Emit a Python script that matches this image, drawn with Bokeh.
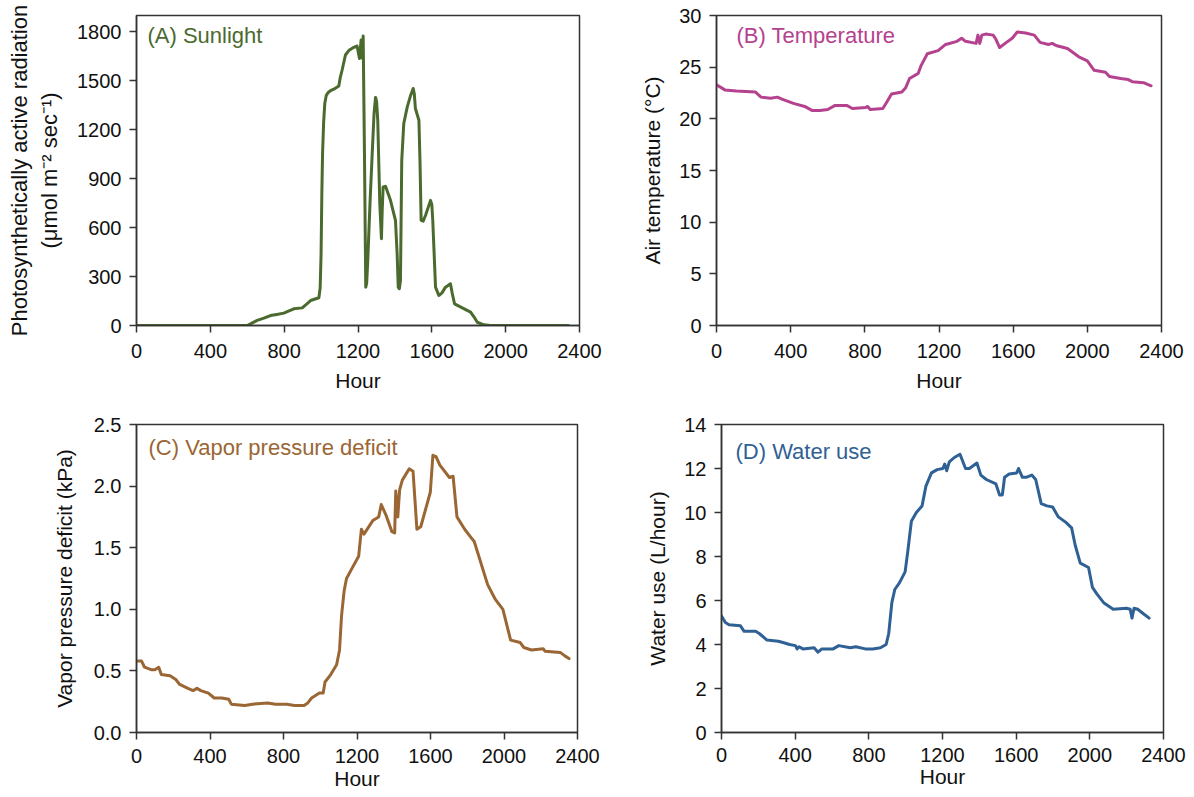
from bokeh.plotting import figure
from bokeh.layouts import column, row
from bokeh.models import FixedTicker, Label, Range1d, NumeralTickFormatter
from bokeh.embed import file_html
from bokeh.resources import INLINE

# ---------------- data ----------------
hours_a = [0, 100, 200, 300, 400, 500, 600, 625, 654, 690, 726, 760, 798, 852, 898, 920, 943, 988, 995, 1000, 1004,
           1008, 1014, 1020, 1028, 1040, 1051, 1075, 1096, 1104, 1114, 1132, 1150, 1177, 1195, 1208, 1217, 1224, 1228,
           1235, 1242, 1247, 1253, 1265, 1277, 1287, 1295, 1301, 1307, 1318, 1327, 1331, 1336, 1349, 1376, 1403, 1412,
           1418, 1424, 1430, 1437, 1448, 1467, 1485, 1499, 1505, 1511, 1530, 1536, 1542, 1553, 1566, 1593, 1600, 1605,
           1620, 1638, 1655, 1674, 1701, 1710, 1723, 1765, 1810, 1830, 1846, 1882, 1918, 2000, 2100, 2200, 2340]
par = [0, 0, 0, 0, 0, 0, 0, 15, 31, 45, 61, 68, 76, 102, 108, 130, 153, 170, 230, 440, 800,
       1054, 1250, 1360, 1410, 1430, 1439, 1452, 1468, 1520, 1566, 1658, 1685, 1705, 1713, 1637, 1750, 1637, 1775,
       1054, 235, 260, 400, 750, 1054, 1300, 1398, 1370, 1258, 747, 532, 700, 849, 853, 767, 645, 440,
       235, 225, 276, 1013, 1238, 1340, 1410, 1453, 1420, 1330, 1258, 1000, 645, 640, 676, 767, 740, 645,
       235, 184, 200, 235, 256, 200, 133, 108, 82, 50, 20, 4, 0, 0, 0, 0, 0]

hours_b = [0, 45, 107, 209, 240, 292, 328, 353, 415, 476, 517, 558, 600, 640, 702, 733, 805, 815, 829, 897,
           918, 944, 1000, 1020, 1041, 1088, 1102, 1137, 1195, 1236, 1297, 1322, 1343, 1400, 1410, 1420, 1431, 1451,
           1492, 1507, 1527, 1564, 1595, 1622, 1667, 1714, 1745, 1790, 1811, 1831, 1893, 1954, 2000, 2037, 2098,
           2119, 2180, 2221, 2242, 2303, 2344]
temperature = [23.3, 22.8, 22.7, 22.6, 22.1, 22.0, 22.1, 21.9, 21.5, 21.2, 20.8, 20.8, 20.9, 21.3, 21.3, 21.0, 21.1,
               21.2, 20.9, 21.0, 21.6, 22.4, 22.6, 23.0, 23.9, 24.4, 25.1, 26.3, 26.6, 27.2, 27.5, 27.8, 27.5, 27.3,
               28.1, 27.3, 28.1, 28.2, 28.1, 27.7, 26.9, 27.4, 27.8, 28.4, 28.3, 28.1, 27.4, 27.2, 27.3, 27.1, 26.8,
               26.0, 25.6, 24.7, 24.5, 24.1, 23.9, 23.8, 23.6, 23.5, 23.2]

hours_c = [0, 27, 44, 79, 100, 121, 135, 183, 214, 235, 277, 308, 329, 350, 391, 423, 464, 502, 516, 589,
           631, 714, 756, 818, 860, 912, 932, 953, 995, 1016, 1026, 1057, 1089, 1105, 1116, 1130, 1143, 1172, 1209,
           1224, 1238, 1286, 1318, 1332, 1359, 1390, 1405, 1411, 1422, 1432, 1447, 1484, 1505, 1526, 1547, 1599,
           1613, 1630, 1651, 1703, 1723, 1744, 1786, 1822, 1838, 1911, 1953, 1994, 2036, 2088, 2108, 2150, 2213,
           2223, 2306, 2333, 2354]
vpd = [0.58, 0.58, 0.53, 0.51, 0.51, 0.53, 0.47, 0.46, 0.43, 0.39, 0.36, 0.34, 0.36, 0.34, 0.32, 0.28, 0.28, 0.27,
       0.23, 0.22, 0.23, 0.24, 0.23, 0.23, 0.22, 0.22, 0.24, 0.28, 0.32, 0.32, 0.41, 0.47, 0.55, 0.67, 0.95, 1.15,
       1.25, 1.33, 1.43, 1.65, 1.61, 1.72, 1.75, 1.85, 1.76, 1.63, 1.62, 1.96, 1.75, 1.97, 2.05, 2.14, 2.12, 1.65,
       1.67, 1.95, 2.25, 2.24, 2.17, 2.07, 2.08, 1.75, 1.65, 1.58, 1.55, 1.2, 1.08, 1.0, 0.75, 0.73, 0.69, 0.67,
       0.68, 0.66, 0.65, 0.62, 0.60]

hours_d = [0, 21, 41, 103, 123, 185, 205, 247, 308, 329, 370, 401, 411, 421, 442, 503, 524, 545, 606, 637,
           699, 729, 781, 822, 863, 894, 908, 925, 941, 966, 997, 1011, 1031, 1058, 1089, 1110, 1140, 1171, 1202,
           1212, 1223, 1237, 1264, 1295, 1325, 1346, 1387, 1408, 1438, 1490, 1510, 1525, 1537, 1562, 1603, 1613,
           1634, 1654, 1685, 1706, 1736, 1767, 1798, 1829, 1870, 1901, 1921, 1948, 1993, 2014, 2038, 2075, 2127,
           2199, 2219, 2229, 2240, 2260, 2291, 2322]
water_use = [5.3, 5.0, 4.9, 4.85, 4.6, 4.6, 4.5, 4.2, 4.15, 4.1, 4.0, 3.95, 3.8, 3.9, 3.8, 3.85, 3.65, 3.8, 3.8,
             3.95, 3.85, 3.9, 3.8, 3.8, 3.85, 4.0, 4.5, 5.9, 6.5, 6.8, 7.3, 8.2, 9.6, 10.0, 10.3, 11.2, 11.8,
             11.95, 12.0, 12.2, 11.9, 12.3, 12.5, 12.65, 12.0, 12.0, 12.25, 11.7, 11.5, 11.3, 10.8, 10.8, 11.6,
             11.75, 11.8, 12.0, 11.6, 11.6, 11.7, 11.5, 10.4, 10.3, 10.25, 9.8, 9.55, 9.3, 8.5, 7.7, 7.5, 6.6,
             6.3, 5.9, 5.6, 5.65, 5.6, 5.2, 5.65, 5.6, 5.4, 5.2]

x_ticks = [0, 400, 800, 1200, 1600, 2000, 2400]
y_ticks_a = [0, 300, 600, 900, 1200, 1500, 1800]
y_ticks_b = [0, 5, 10, 15, 20, 25, 30]
y_ticks_c = [0.0, 0.5, 1.0, 1.5, 2.0, 2.5]
y_ticks_d = [0, 2, 4, 6, 8, 10, 12, 14]

FONT = "Liberation Sans"
AX = "#333333"


def panel(xs, ys, color, ymax, yticks, ylabel, title, tx_px, ty_px,
          width, height, bl, br, bt, bb, fmt=None, ylab_size="21px",
          x_std=(11, 8), y_lab_std=12):
    p = figure(width=width, height=height, x_range=Range1d(0, 2400), y_range=Range1d(0, ymax),
               output_backend="svg", toolbar_location=None)
    p.min_border_left = bl
    p.min_border_right = br
    p.min_border_top = bt
    p.min_border_bottom = bb
    p.line(xs, ys, line_color=color, line_width=3, line_join="round", line_cap="round")
    p.xgrid.visible = False
    p.ygrid.visible = False
    p.outline_line_color = AX
    p.outline_line_width = 1.5
    p.outline_line_alpha = 1.0
    p.background_fill_color = "white"
    p.border_fill_color = "white"
    p.xaxis.ticker = FixedTicker(ticks=x_ticks)
    p.yaxis.ticker = FixedTicker(ticks=yticks)
    if fmt:
        p.yaxis.formatter = NumeralTickFormatter(format=fmt)
    p.xaxis.axis_label = "Hour"
    p.yaxis.axis_label = ylabel
    for ax in (p.xaxis[0], p.yaxis[0]):
        ax.axis_line_color = AX
        ax.axis_line_width = 1.5
        ax.major_tick_line_color = AX
        ax.major_tick_line_width = 1.5
        ax.major_tick_out = 7
        ax.major_tick_in = 0
        ax.minor_tick_out = 0
        ax.minor_tick_in = 0
        ax.major_label_text_font = FONT
        ax.major_label_text_font_size = "20px"
        ax.major_label_text_color = "#111111"
        ax.axis_label_text_font = FONT
        ax.axis_label_text_font_size = "21px"
        ax.axis_label_text_font_style = "normal"
        ax.axis_label_text_color = "#111111"
    p.xaxis[0].major_label_standoff = x_std[0]
    p.xaxis[0].axis_label_standoff = x_std[1]
    p.yaxis[0].major_label_standoff = 8
    p.yaxis[0].axis_label_standoff = y_lab_std
    p.yaxis[0].axis_label_text_font_size = ylab_size
    fw = width - bl - br
    fh = height - bt - bb
    lab = Label(x=2400 * tx_px / fw, y=ymax * (1 - ty_px / fh), text=title,
                text_font=FONT, text_font_size="22px", text_color=color,
                text_align="left", text_baseline="middle")
    p.add_layout(lab)
    return p


pA = panel(hours_a, par, "#4b6a2e", 1900, y_ticks_a,
           "Photosynthetically active radiation\n(\u03bcmol m\u207b\u00b2 sec\u207b\u00b9)",
           "(A) Sunlight", 11, 20, 638, 400, 136, 59, 15, 75, ylab_size="22px")
pB = panel(hours_b, temperature, "#b5428f", 30, y_ticks_b,
           "Air temperature (\u00b0C)", "(B) Temperature", 20, 20, 550, 400, 78, 27, 15, 75)
pC = panel(hours_c, vpd, "#9a6634", 2.5, y_ticks_c,
           "Vapor pressure deficit (kPa)", "(C) Vapor pressure deficit", 12, 23, 638, 397, 136, 61, 24, 64,
           fmt="0.0", x_std=(9, 1), y_lab_std=15)
pD = panel(hours_d, water_use, "#2f6194", 14, y_ticks_d,
           "Water use (L/hour)", "(D) Water use", 14, 27, 550, 397, 83, 25, 22, 65, x_std=(8, 0))

layout = column(row(pA, pB), row(pC, pD))

open("out.html", "w").write(file_html(layout, INLINE))
